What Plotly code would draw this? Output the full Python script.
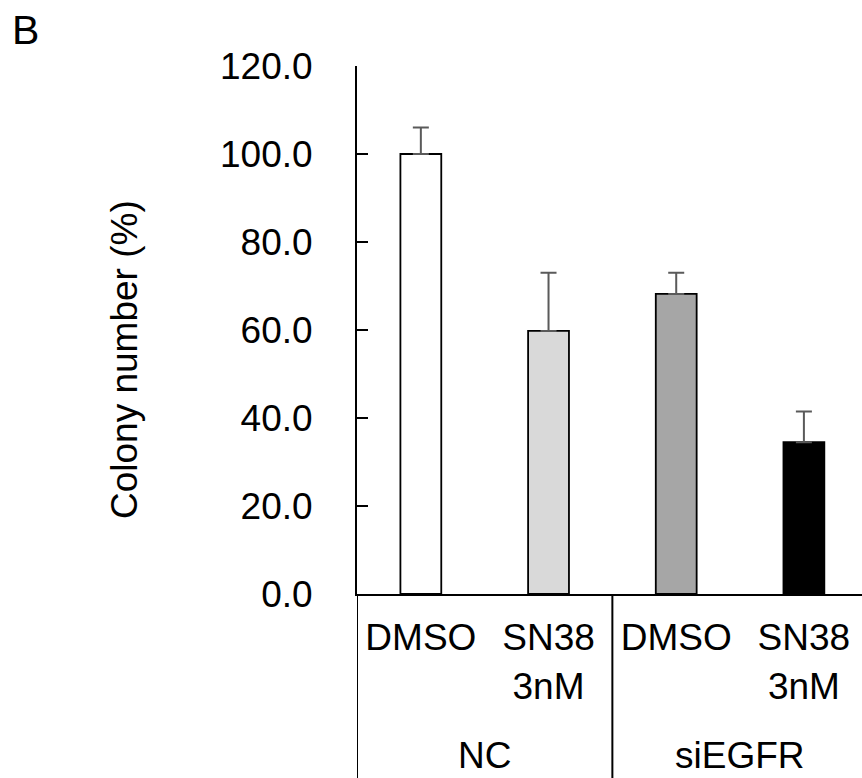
import plotly.graph_objects as go

categories = ["DMSO", "SN38<br>3nM", "DMSO", "SN38<br>3nM"]
values = [100.0, 59.8, 68.2, 34.5]
errors = [6.0, 13.2, 4.8, 7.0]
bar_colors = ["#ffffff", "#d9d9d9", "#a6a6a6", "#000000"]
groups = ["NC", "siEGFR"]
y_ticks = [0, 20, 40, 60, 80, 100, 120]

FONT = "Liberation Sans, Arial, sans-serif"
FS = 37
xpos = list(range(len(values)))

W, H = 862, 778
L, R, T, B = 357, 0, 66, 184
PW, PH = W - L - R, H - T - B

fig = go.Figure()
fig.add_trace(go.Bar(
    x=xpos, y=values, width=0.32,
    marker=dict(color=bar_colors, line=dict(color="black", width=1.8)),
    error_y=dict(type="data", symmetric=False, array=errors,
                 arrayminus=[0] * len(errors),
                 color="#5a5a5a", thickness=2, width=8),
    showlegend=False,
))

# group labels and separators
for gi, g in enumerate(groups):
    fig.add_annotation(x=2 * gi + 0.5, xref="x", y=-(755 - 594) / PH, yref="paper",
                       text=g, showarrow=False,
                       font=dict(family=FONT, size=FS, color="black"),
                       yanchor="middle")
for xv in [-0.5, 1.5]:
    fig.add_shape(type="line", xref="x", yref="paper", x0=xv, x1=xv,
                  y0=0, y1=-0.4, line=dict(color="black", width=2))

# y axis title
fig.add_annotation(x=(124 - L) / PW, xref="paper", y=(594 - 360) / PH, yref="paper",
                   text="Colony number (%)", textangle=-90, showarrow=False,
                   xanchor="center", yanchor="middle",
                   font=dict(family=FONT, size=FS, color="black"))

# panel letter
fig.add_annotation(x=(10 - L) / PW, xref="paper", y=(594 - 30) / PH, yref="paper",
                   text="B", showarrow=False, xanchor="left", yanchor="middle",
                   font=dict(family=FONT, size=41, color="black"))

fig.update_layout(
    width=W, height=H,
    margin=dict(l=L, r=R, t=T, b=B, autoexpand=False),
    paper_bgcolor="white", plot_bgcolor="white",
    font=dict(family=FONT, size=FS, color="black"),
    xaxis=dict(
        range=[-0.5, 3.455],
        tickvals=xpos, ticktext=categories,
        showline=True, linecolor="black", linewidth=2,
        ticks="", showgrid=False, zeroline=False,
        ticklabelstandoff=10,
        tickfont=dict(family=FONT, size=FS, color="black"),
    ),
    yaxis=dict(
        range=[0, 120],
        tickvals=y_ticks, tickformat=".1f",
        showline=True, linecolor="black", linewidth=2,
        ticks="inside", ticklen=11, tickwidth=2, tickcolor="black",
        showgrid=False, zeroline=False,
        ticklabelstandoff=35,
        tickfont=dict(family=FONT, size=FS, color="black"),
    ),
)

fig.write_html("out.html", config={"displayModeBar": False},
               post_script="document.body.style.margin='0';")
